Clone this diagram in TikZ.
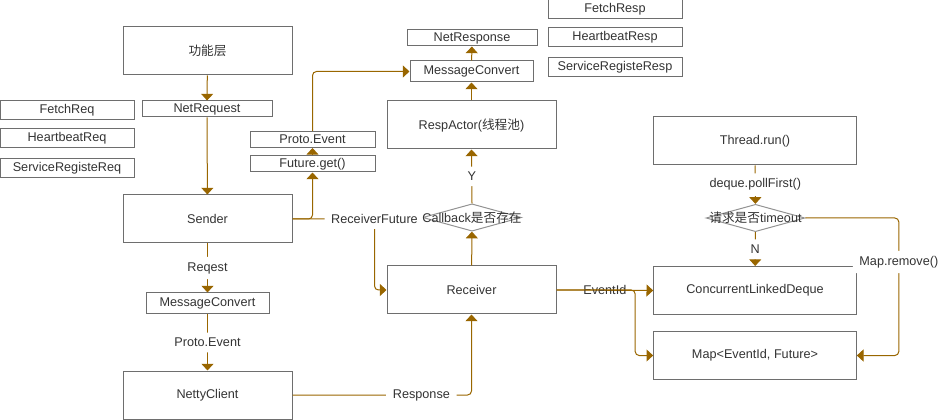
\documentclass[tikz,border=0pt]{standalone}
\usepackage{fontspec}
\setmainfont{Liberation Sans}
\newfontfamily\cjk{Noto Sans CJK SC}
\usetikzlibrary{shapes.geometric,arrows.meta}
\definecolor{edgecol}{RGB}{153,102,0}
\definecolor{boxcol}{RGB}{110,110,110}
\definecolor{txtcol}{RGB}{51,51,51}

\begin{document}
\begin{tikzpicture}[x=0.75pt,y=0.75pt,yscale=-1,xscale=1,
  every node/.style={font=\fontsize{9.5}{11}\selectfont, text=txtcol},
  blk/.style={draw=boxcol, line width=0.75pt, inner sep=0pt, minimum width=126.75pt, minimum height=36pt},
  wblk/.style={blk, minimum width=152pt},
  tag/.style 2 args={draw=boxcol, line width=0.75pt, inner sep=0pt, minimum width=#1*0.75pt, minimum height=#2*0.75pt},
  dec/.style={diamond, draw=boxcol!75, line width=0.75pt, inner sep=0pt, minimum width=74pt, minimum height=20.5pt},
  flow/.style={draw=edgecol, line width=0.75pt, rounded corners=3pt, -{Triangle[length=5pt,width=9pt]}},
  lbl/.style={fill=white, inner xsep=5pt, inner ysep=4pt}]
\useasboundingbox (0,0) rectangle (946,420);

%left column
\node[blk] (layer) at (207.5,51) {\cjk 功能层};
\node[tag={130}{16}] (netreq) at (207,109) {NetRequest};
\node[tag={134}{19}] (fetchreq) at (67,110.5) {FetchReq};
\node[tag={134}{19}] (beatreq) at (67,138.5) {HeartbeatReq};
\node[tag={134}{19}] (regreq) at (67,168.5) {ServiceRegisteReq};
\node[blk] (sender) at (207.5,219) {Sender};
\node[tag={123}{21}] (convlow) at (207.5,303.5) {MessageConvert};
\node[blk] (netty) at (207.5,395) {NettyClient};

%middle column
\node[tag={125}{16}] (protoup) at (312.5,139.5) {Proto.Event};
\node[tag={125}{16}] (futget) at (312.5,164) {Future.get()};
\node[tag={130}{16}] (netresp) at (472,38) {NetResponse};
\node[tag={123}{21}] (convup) at (471.5,71.5) {MessageConvert};
\node[tag={134}{19}] (fetchresp) at (615,9.5) {FetchResp};
\node[tag={134}{19}] (beatresp) at (615,37.5) {HeartbeatResp};
\node[tag={134}{19}] (regresp) at (615,67.5) {ServiceRegisteResp};
\node[blk] (actor) at (471.5,125) {RespActor({\cjk 线程池})};
\node[dec] (cbdec) at (472,217.5) {};
\node[blk] (receiver) at (471.5,290) {Receiver};

%right column
\node[wblk] (thread) at (755,141) {Thread.run()};
\node[dec] (todec) at (755.5,218) {};
\node[wblk] (deque) at (755,290.5) {ConcurrentLinkedDeque};
\node[wblk] (evmap) at (755,355.5) {Map<EventId, Future>};

\draw[flow] (layer) -- (netreq);
\draw[flow] (netreq) -- (sender);
\draw[flow] (sender.east) -| (futget.south);
\draw[flow] (futget) -- (protoup);
\draw[flow] (protoup.north) |- (convup.west);
\draw[flow] (convup) -- (netresp);
\draw[flow] (actor) -- (convup);
\draw[flow] (cbdec.north) -- node[lbl]{Y} (actor.south);
\draw[flow] (receiver) -- (cbdec);
\draw[flow] (sender.east) -| node[lbl]{ReceiverFuture} ([xshift=-9pt]receiver.west) -- (receiver.west);
\draw[flow] (receiver.east) -- node{EventId} (deque.west);
\draw[flow] (receiver.east) -| ([xshift=-13.5pt]evmap.west) -- (evmap.west);
\draw[flow] (thread) -- node[lbl]{deque.pollFirst()} (todec);
\draw[flow] (todec) -- node[lbl]{N} (deque);
\draw[flow] (todec.east) -| node[lbl, pos=0.66]{Map.remove()} ([xshift=31.5pt]evmap.east) -- (evmap.east);
\draw[flow] (sender) -- node[lbl]{Reqest} (convlow);
\draw[flow] (convlow) -- node[lbl]{Proto.Event} (netty);
\draw[flow] (netty.east) -| node[lbl, pos=0.36]{Response} (receiver.south);

%diamond texts
\node at (cbdec) {Callback{\cjk 是否存在}};
\node at (todec) {{\cjk 请求是否}timeout};

\end{tikzpicture}
\end{document}
